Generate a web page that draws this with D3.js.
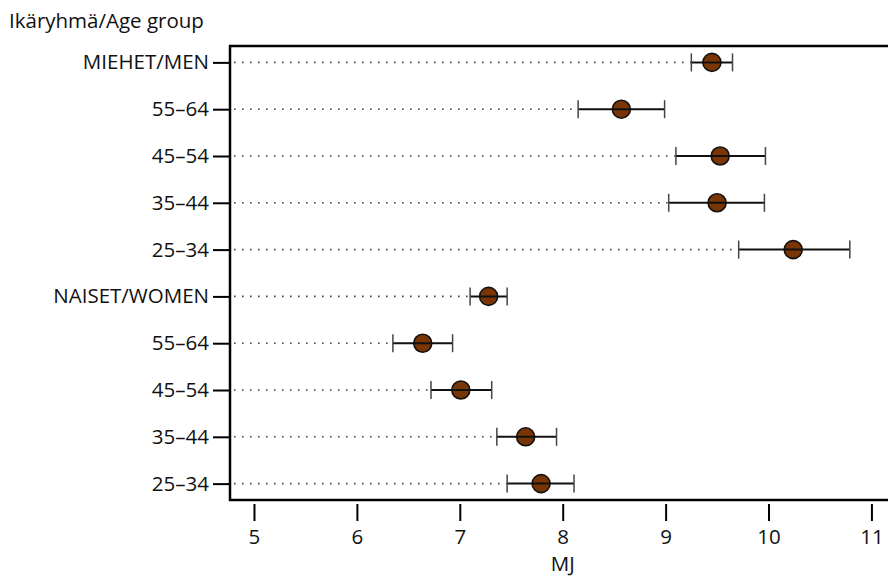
<!DOCTYPE html>
<html>
<head>
<meta charset="utf-8">
<script src="https://cdn.jsdelivr.net/npm/d3@7"></script>
<style>
body{margin:0;background:#fff;}
svg{display:block;font-family:"Open Sans",sans-serif;}
</style>
</head>
<body>
<svg width="888" height="576"></svg>
<script>
"use strict";

var groups=["MIEHET/MEN","55–64","45–54","35–44","25–34","NAISET/WOMEN","55–64","45–54","35–44","25–34"];
var means=[9.45,8.57,9.53,9.50,10.24,7.28,6.64,7.01,7.64,7.79];
var lower=[9.25,8.15,9.10,9.03,9.71,7.10,6.35,6.72,7.36,7.46];
var upper=[9.65,8.99,9.97,9.96,10.79,7.46,6.93,7.31,7.94,8.11];
var xTicks=[5,6,7,8,9,10,11];

function dotPlot(){

	var svg=d3.select("svg");
	var left=230, right=902, top=46, bottom=500;
	var fontSize=20.5;

	var xScale=d3.scaleLinear().domain([4.767,11.297]).range([left,right]);
	var yScale=d3.scalePoint().domain(d3.range(groups.length)).range([top,bottom]).padding(0.35);

	// dotted guide lines
	svg.append("g")
		.selectAll("line")
		.data(groups)
		.enter()
		.append("line")
		.attr("x1",left+4)
		.attr("x2",function(d,i){return xScale(lower[i]);})
		.attr("y1",function(d,i){return yScale(i);})
		.attr("y2",function(d,i){return yScale(i);})
		.attr("stroke","#444")
		.attr("stroke-width",1.6)
		.attr("stroke-dasharray","1.6,6.4");

	// circles
	svg.append("g")
		.selectAll("circle")
		.data(means)
		.enter()
		.append("circle")
		.attr("cx",function(d){return xScale(d);})
		.attr("cy",function(d,i){return yScale(i);})
		.attr("r",9)
		.attr("fill","#7a3505")
		.attr("stroke","#111")
		.attr("stroke-width",1.6);

	// error bars
	var bars=svg.append("g").selectAll("g")
		.data(groups)
		.enter()
		.append("g")
		.attr("stroke","#111");

	bars.append("line")
		.attr("x1",function(d,i){return xScale(lower[i]);})
		.attr("x2",function(d,i){return xScale(upper[i]);})
		.attr("y1",function(d,i){return yScale(i);})
		.attr("y2",function(d,i){return yScale(i);})
		.attr("stroke-width",2);

	bars.append("line")
		.attr("x1",function(d,i){return xScale(lower[i]);})
		.attr("x2",function(d,i){return xScale(lower[i]);})
		.attr("y1",function(d,i){return yScale(i)-9;})
		.attr("y2",function(d,i){return yScale(i)+9;})
		.attr("stroke","#444")
		.attr("stroke-width",1.5);

	bars.append("line")
		.attr("x1",function(d,i){return xScale(upper[i]);})
		.attr("x2",function(d,i){return xScale(upper[i]);})
		.attr("y1",function(d,i){return yScale(i)-9;})
		.attr("y2",function(d,i){return yScale(i)+9;})
		.attr("stroke","#444")
		.attr("stroke-width",1.5);

	// frame
	svg.append("rect")
		.attr("x",left)
		.attr("y",top)
		.attr("width",right-left)
		.attr("height",bottom-top)
		.attr("fill","none")
		.attr("stroke","#000")
		.attr("stroke-width",2.5);

	// y axis
	var yAxis=svg.append("g")
		.attr("transform","translate("+left+",0)")
		.call(d3.axisLeft(yScale).tickSize(17).tickPadding(4).tickFormat(function(i){return groups[i];}));
	yAxis.select(".domain").remove();
	yAxis.selectAll(".tick line").attr("stroke","#000").attr("stroke-width",2);
	yAxis.selectAll("text").attr("font-size",fontSize).attr("font-family","\"Open Sans\",sans-serif").attr("fill","#111");

	// x axis
	var xAxis=svg.append("g")
		.attr("transform","translate(0,"+(bottom+4)+")")
		.call(d3.axisBottom(xScale).tickValues(xTicks).tickSize(17).tickPadding(8).tickFormat(d3.format("d")));
	xAxis.select(".domain").remove();
	xAxis.selectAll(".tick line").attr("stroke","#000").attr("stroke-width",2);
	xAxis.selectAll("text").attr("font-size",fontSize).attr("font-family","\"Open Sans\",sans-serif").attr("fill","#111");

	svg.append("text")
		.attr("x",xScale(8))
		.attr("y",571)
		.attr("text-anchor","middle")
		.attr("font-size",fontSize)
		.attr("fill","#111")
		.text("MJ");

	svg.append("text")
		.attr("x",9)
		.attr("y",28)
		.attr("font-size",fontSize)
		.attr("fill","#111")
		.text("Ikäryhmä/Age group");
}

dotPlot();
</script>
</body>
</html>
